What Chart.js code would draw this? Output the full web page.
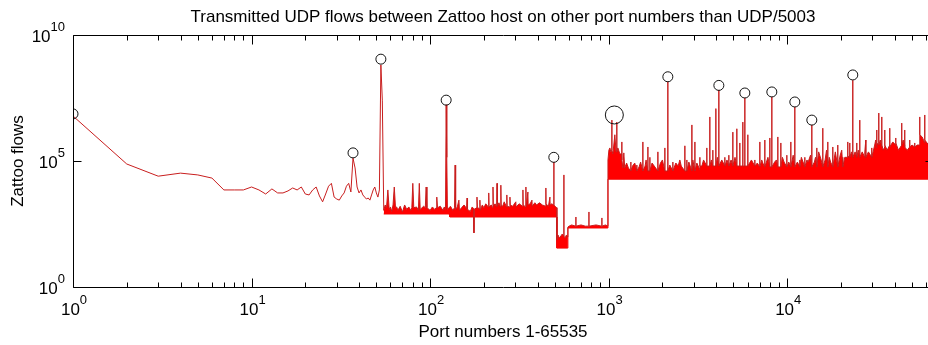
<!DOCTYPE html>
<html>
<head>
<meta charset="utf-8">
<title>Transmitted UDP flows</title>
<script src="https://cdn.jsdelivr.net/npm/chart.js@4.4.1/dist/chart.umd.min.js"></script>
<style>
  html, body { margin: 0; padding: 0; background: #fff; overflow: hidden; }
  #wrap { width: 950px; height: 345px; }
</style>
</head>
<body>
<div id="wrap"><canvas id="c" width="950" height="345"></canvas></div>
<script>
// Flow counts per port: well-known range (ports 1-512)
const portsLow = [
  1, 2, 3, 4, 5, 6, 7, 8, 9, 10, 11, 12, 13, 14, 15, 16, 17, 18, 19, 20,
  21, 22, 23, 24, 25, 26, 27, 28, 29, 30, 31, 32, 33, 34, 35, 36, 37, 38, 39, 40,
  41, 42, 43, 44, 45, 46, 47, 48, 49, 50, 51, 52, 53, 54, 55, 56, 57, 58, 59, 60,
  61, 62, 63, 64, 65, 66, 68, 70, 72, 74, 76, 78, 79, 80, 81, 84, 86, 87, 88, 92,
  94, 95, 96, 100, 103, 106, 108, 109, 110, 114, 118, 120, 122, 123, 124, 125, 130, 134, 137, 138,
  139, 142, 145, 146, 150, 155, 160, 161, 162, 168, 172, 175, 176, 177, 182, 183, 184, 189, 190, 191,
  196, 200, 205, 212, 213, 214, 220, 224, 225, 226, 231, 236, 237, 238, 243, 248, 249, 250, 255, 260,
  268, 269, 270, 279, 280, 281, 290, 302, 303, 315, 330, 331, 332, 343, 344, 345, 353, 354, 363, 372,
  373, 386, 395, 410, 425, 444, 445, 446, 460, 469, 470, 480, 492, 493, 494, 505, 512
];
const flowsLow = [
  6.1e6, 7.6e4, 2.5e4, 3.3e4, 2.8e4, 2.1e4, 7.1e3, 7.1e3, 7.1e3, 9.3e3, 7.1e3, 4.9e3, 7.8e3, 5.4e3, 5.4e3, 6.5e3, 8.5e3, 7.1e3, 9.3e3, 4.9e3,
  4.5e3, 7.1e3, 9.3e3, 4.1e3, 2.4e3, 4.9e3, 1.0e4, 1.3e4, 3.7e3, 3.1e3, 2.8e3, 4.1e3, 5.4e3, 1.0e4, 1.3e4, 5.9e3, 1.3e5, 5.3e4, 9.3e3, 5.4e3,
  7.1e3, 4.5e3, 3.7e3, 3.1e3, 3.4e3, 2.8e3, 4.5e3, 7.1e3, 9.3e3, 5.4e3, 3.7e3, 7.1e3, 6.5e8, 2.6e7, 1.1e3, 1.8e3, 1.4e3, 7.1e3, 1.2e3, 1.5e3,
  1.0e3, 1.8e3, 9.3e3, 1.4e3, 1.5e3, 1.1e3, 1.6e3, 950, 1.8e3, 1.2e3, 1.5e3, 1.1e3, 1.4e3, 1.3e4, 1.4e3, 1.5e3, 1.1e3, 1.3e4, 1.2e3, 1.6e3,
  1.4e3, 9.3e3, 1.4e3, 1.1e3, 1.5e3, 1.2e3, 1.4e3, 3.7e3, 1.4e3, 1.6e3, 1.1e3, 1.5e3, 1.2e3, 1.7e7, 1.4e5, 1.2e3, 1.6e3, 1.1e3, 1.4e3, 6.9e4,
  1.2e3, 1.5e3, 2.8e3, 1.1e3, 1.4e3, 1.8e3, 1.3e3, 3.4e3, 1.2e3, 1.0e3, 1.5e3, 1.3e3, 140, 1.2e3, 1.4e3, 3.7e3, 1.4e3, 1.3e3, 2.8e3, 1.1e3,
  1.8e3, 1.4e3, 2.0e3, 1.5e3, 5.4e3, 1.5e3, 1.8e3, 1.4e3, 9.3e3, 1.6e3, 2.0e3, 1.5e3, 1.3e4, 1.6e3, 2.2e3, 1.5e3, 1.1e4, 1.8e3, 1.6e3, 2.4e3,
  1.5e3, 4.5e3, 1.6e3, 1.5e3, 3.7e3, 1.8e3, 1.6e3, 2.4e3, 1.5e3, 2.0e3, 1.6e3, 7.1e3, 1.8e3, 1.5e3, 9.3e3, 1.6e3, 5.9e3, 1.8e3, 2.0e3, 2.8e3,
  1.6e3, 2.2e3, 1.8e3, 2.2e3, 1.8e3, 1.6e3, 8.5e3, 2.0e3, 1.6e3, 3.7e3, 1.8e3, 2.0e3, 1.8e3, 9.1e4, 1.8e3, 1.5e3, 1.4e3
];

// Flow counts per port: ports 513-990
const portsMid = [
  513, 520, 530, 540, 550, 560, 561, 562, 570, 580, 590,
  591, 600, 620, 654, 655, 656, 700, 740, 774, 775, 776, 850, 915, 916, 917, 960, 990
];
const flowsMid = [
  73, 116, 88, 106, 127, 106, 2.8e4, 106, 88, 116, 96,
  240, 260, 290, 260, 600, 260, 290, 260, 260, 950, 260, 290, 260, 550, 260, 290, 260
];

// Flow counts per port: registered and dynamic range (ports 991-65535)
const portsHigh = [
  991, 1003, 1016, 1029, 1041, 1042, 1043, 1056, 1083, 1100,
  1110, 1111, 1112, 1126, 1155, 1184, 1185, 1186, 1201, 1216,
  1230, 1260, 1290, 1330, 1331, 1332, 1360, 1400, 1437, 1438,
  1439, 1480, 1510, 1553, 1554, 1555, 1600, 1620, 1657, 1658,
  1659, 1700, 1701, 1702, 1750, 1800, 1885, 1886, 1887, 1950,
  2000, 2063, 2064, 2065, 2144, 2145, 2146, 2200, 2287, 2288,
  2289, 2378, 2450, 2504, 2550, 2670, 2671, 2672, 2740, 2741,
  2742, 2813, 2923, 2924, 2925, 2962, 3039, 3040, 3041, 3119,
  3241, 3242, 3243, 3327, 3400, 3545, 3546, 3547, 3685, 3686,
  3687, 3760, 3831, 3832, 3833, 3983, 3984, 3985, 4060, 4140,
  4141, 4142, 4300, 4473, 4474, 4475, 4600, 4710, 4711, 4712,
  4850, 4959, 4960, 4961, 5100, 5221, 5222, 5223, 5427, 5428,
  5429, 5641, 5642, 5643, 5789, 5790, 5791, 6017, 6018, 6019,
  6300, 6586, 6587, 6588, 6800, 7025, 7026, 7027, 7200, 7300,
  7491, 7492, 7493, 7800, 7991, 7992, 7993, 8199, 8200, 8201,
  8500, 8700, 8860, 8861, 8862, 9210, 9211, 9212, 9400, 9600,
  9949, 9950, 9951, 10200, 10476, 10477, 10478, 10800, 11030, 11031,
  11032, 11400, 11765, 11766, 11767, 12000, 12549, 12550, 12551, 12900,
  13100, 13500, 13732, 13733, 13734, 14200, 14400, 14647, 14648, 14649,
  15000, 15500, 15823, 15824, 15825, 16300, 16600, 16876, 16877, 16878,
  17200, 17500, 17999, 18000, 18001, 18600, 19197, 19198, 19199, 19800,
  20200, 20475, 20476, 20477, 21000, 21839, 21840, 21841, 22410, 22411,
  22412, 22900, 23294, 23295, 23296, 24000, 24527, 24528, 24529, 25000,
  25495, 25496, 25497, 26300, 27195, 27196, 27550, 27551, 28500, 29761,
  29762, 29763, 30900, 31300, 31741, 31742, 31743, 32572, 32573, 32574,
  33200, 33854, 33855, 33856, 34500, 35189, 35190, 35191, 36300, 37530,
  37531, 37532, 39000, 40547, 40548, 40549, 42000, 43788, 43789, 43790,
  44600, 45516, 45517, 45518, 47000, 48547, 48548, 48549, 50000, 51781,
  51782, 51783, 53500, 55257, 55258, 55259, 57000, 58938, 58939, 58940,
  62000, 65535
];
const flowsHigh = [
  1.1e5, 2.7e5, 3.3e5, 2.3e5, 2.7e5, 4.2e6, 2.7e5, 1.9e5, 1.1e6, 2.3e5,
  2.3e5, 3.5e6, 2.3e5, 3.3e5, 1.9e5, 1.9e5, 5.7e5, 1.1e5, 5.3e4, 2.1e5,
  5.3e4, 8.3e4, 5.3e4, 4.0e4, 9.1e4, 4.0e4, 6.3e4, 8.3e4, 4.0e4, 6.9e4,
  4.0e4, 5.8e4, 9.1e4, 4.0e4, 5.7e5, 4.0e4, 6.3e4, 1.1e5, 4.0e4, 3.6e5,
  4.0e4, 4.0e4, 1.4e5, 4.0e4, 8.3e4, 6.3e4, 4.0e4, 2.3e5, 4.0e4, 8.3e4,
  1.1e5, 4.0e4, 3.3e5, 4.0e4, 4.0e4, 1.4e8, 4.0e4, 6.9e4, 4.0e4, 9.1e4,
  4.0e4, 8.3e4, 6.3e4, 1.1e5, 6.3e4, 4.0e4, 4.0e5, 4.0e4, 4.0e4, 1.1e5,
  4.0e4, 9.1e4, 4.0e4, 2.7e6, 4.0e4, 1.1e5, 4.0e4, 5.7e5, 4.0e4, 8.3e4,
  4.5e4, 1.4e5, 6.3e4, 6.3e4, 1.1e5, 6.3e4, 3.3e5, 6.3e4, 6.3e4, 5.6e6,
  6.3e4, 1.1e5, 6.3e4, 2.7e5, 6.3e4, 6.3e4, 1.2e7, 6.3e4, 1.4e5, 6.3e4,
  6.6e7, 6.3e4, 1.1e5, 6.3e4, 1.4e5, 6.3e4, 1.1e5, 6.3e4, 1.7e5, 6.3e4,
  1.1e5, 6.3e4, 1.4e6, 6.3e4, 1.4e5, 6.3e4, 1.9e6, 6.3e4, 6.3e4, 5.2e5,
  6.3e4, 6.3e4, 3.5e6, 6.3e4, 6.3e4, 3.2e7, 6.3e4, 6.3e4, 1.1e6, 6.3e4,
  1.1e5, 6.3e4, 1.1e5, 6.3e4, 8.3e4, 5.8e4, 5.7e5, 5.8e4, 1.1e5, 8.3e4,
  5.8e4, 6.8e5, 5.8e4, 1.4e5, 5.8e4, 8.2e5, 5.8e4, 5.8e4, 3.5e7, 5.8e4,
  9.1e4, 1.1e5, 5.8e4, 9.0e5, 5.8e4, 5.8e4, 5.2e5, 5.8e4, 1.4e5, 9.1e4,
  5.8e4, 1.7e5, 5.8e4, 9.1e4, 5.8e4, 5.7e5, 5.8e4, 1.7e5, 5.8e4, 1.4e7,
  5.8e4, 9.1e4, 5.8e4, 1.1e5, 5.8e4, 1.4e5, 5.8e4, 1.4e5, 5.8e4, 1.1e5,
  9.1e4, 1.7e5, 5.8e4, 2.7e6, 5.8e4, 9.1e4, 1.4e5, 5.8e4, 3.3e5, 5.8e4,
  2.3e5, 1.1e5, 5.8e4, 2.0e6, 5.8e4, 1.1e5, 2.7e5, 5.8e4, 5.7e5, 5.8e4,
  1.4e5, 9.1e4, 5.8e4, 3.6e5, 5.8e4, 2.3e5, 5.8e4, 4.3e5, 5.8e4, 1.7e5,
  2.7e5, 5.8e4, 1.4e5, 5.8e4, 1.4e5, 1.4e5, 5.7e5, 1.4e5, 1.7e5, 5.2e5,
  1.4e5, 2.3e5, 1.4e5, 1.6e8, 1.4e5, 2.3e5, 1.4e5, 5.2e5, 1.4e5, 2.7e5,
  1.4e5, 4.2e6, 1.4e5, 2.3e5, 1.4e5, 2.3e5, 6.8e5, 1.4e5, 2.3e5, 1.4e5,
  3.3e5, 1.4e5, 4.3e5, 6.8e5, 3.3e5, 1.7e6, 5.2e5, 4.3e5, 8.0e6, 4.3e5,
  6.8e5, 3.6e5, 5.6e6, 4.3e5, 2.7e5, 3.6e5, 1.7e6, 4.3e5, 2.7e5, 4.3e5,
  2.0e6, 3.6e5, 5.7e5, 4.3e5, 8.2e5, 5.2e5, 2.7e5, 4.3e5, 3.2e6, 4.3e5,
  6.8e5, 4.3e5, 1.7e6, 3.6e5, 2.7e5, 3.6e5, 6.8e5, 3.6e5, 4.3e5, 3.6e5,
  5.2e5, 3.6e5, 4.3e5, 4.3e5, 5.6e6, 1.1e6, 9.0e5, 5.2e5, 6.7e6, 6.8e5,
  4.3e5, 4.3e5
];

// Lower edge of the dense band of flow counts
const floorPorts = [55, 128, 129, 512, 513, 590, 591, 990, 991, 65535];
const floorFlows = [790, 790, 600, 600, 35, 35, 220, 220, 1.9e4, 1.9e4];

// Ports whose flow counts stand out (ringed)
const peakPorts = [1, 37, 53, 123, 493, 1076, 2145, 4141, 5790, 8200, 11031, 13733, 23295];
const peakFlows = [7.4e6, 2.1e5, 1.1e9, 2.6e7, 1.4e5, 6.7e6, 2.2e8, 1.0e8, 5.0e7, 5.5e7, 2.2e7, 4.2e6, 2.6e8];

// Axis decades that carry a label
const xTickExps = [0, 1, 2, 3, 4];
const yTickExps = [0, 5, 10];

const FONT = '"Liberation Sans", Arial, Helvetica, sans-serif';
const TITLE = 'Transmitted UDP flows between Zattoo host on other port numbers than UDP/5003';

const ports = portsLow.concat(portsMid, portsHigh);
const flows = flowsLow.concat(flowsMid, flowsHigh);
const peakRadius = peakPorts.map(p => (p === 1076 ? 9 : 5));

// "10" followed by a raised exponent
function drawPower(ctx, e, anchorX, baseline, align) {
  const base = '10', exp = String(e);
  ctx.font = '17px ' + FONT;
  const wb = ctx.measureText(base).width;
  ctx.font = '13px ' + FONT;
  const we = ctx.measureText(exp).width;
  const x0 = align === 'center' ? anchorX - (wb + we) / 2 : anchorX - (wb + we);
  ctx.textAlign = 'left';
  ctx.textBaseline = 'alphabetic';
  ctx.font = '17px ' + FONT;
  ctx.fillText(base, x0, baseline);
  ctx.font = '13px ' + FONT;
  ctx.fillText(exp, x0 + wb, baseline - 11);
}

// Plot box with inward tick marks, decade labels and the title
const framePlugin = {
  id: 'frame',
  afterDatasetsDraw(chart) {
    const { ctx, chartArea: a, scales: { x, y } } = chart;
    ctx.save();
    ctx.strokeStyle = '#000';
    ctx.lineWidth = 1;
    ctx.beginPath();
    const L = Math.round(a.left) + 0.5, R = Math.round(a.right) + 0.5;
    const T = Math.round(a.top) + 0.5, B = Math.round(a.bottom) + 0.5;
    ctx.moveTo(L, T); ctx.lineTo(R, T); ctx.lineTo(R, B); ctx.lineTo(L, B); ctx.closePath();
    for (const t of x.ticks) {
      const px = Math.round(x.getPixelForValue(t.value)) + 0.5;
      const l = Math.log10(t.value);
      const len = Math.abs(l - Math.round(l)) < 1e-9 ? 9 : 5;
      ctx.moveTo(px, B); ctx.lineTo(px, B - len);
      ctx.moveTo(px, T); ctx.lineTo(px, T + len);
    }
    for (const t of y.ticks) {
      const py = Math.round(y.getPixelForValue(t.value)) + 0.5;
      ctx.moveTo(L, py); ctx.lineTo(L + 8, py);
      ctx.moveTo(R, py); ctx.lineTo(R - 8, py);
    }
    ctx.stroke();

    ctx.fillStyle = '#000';
    for (const e of xTickExps) {
      drawPower(ctx, e, x.getPixelForValue(Math.pow(10, e)) + 1, a.bottom + 28, 'center');
    }
    for (const e of yTickExps) {
      drawPower(ctx, e, a.left - 8, y.getPixelForValue(Math.pow(10, e)) + 7, 'right');
    }

    ctx.font = '17px ' + FONT;
    ctx.textAlign = 'center';
    ctx.textBaseline = 'middle';
    ctx.fillText(TITLE, (a.left + a.right) / 2, 17);
    ctx.restore();
  }
};

// Minor and major tick positions of the port axis
const xTickValues = [];
for (let e = 0; e <= 4; e++) {
  for (let m = 1; m <= 9; m++) {
    const v = m * Math.pow(10, e);
    if (v <= 65535) xTickValues.push(v);
  }
}

new Chart(document.getElementById('c'), {
  type: 'line',
  data: {
    datasets: [
      {
        label: 'peaks',
        data: peakPorts.map((p, i) => ({ x: p, y: peakFlows[i] })),
        showLine: false,
        pointStyle: 'circle',
        pointRadius: peakRadius,
        pointBorderColor: '#111',
        pointBackgroundColor: 'rgba(0,0,0,0)',
        pointBorderWidth: 1
      },
      {
        label: 'flows',
        data: ports.map((p, i) => ({ x: p, y: flows[i] })),
        borderColor: 'rgb(200,30,30)',
        backgroundColor: 'rgb(255,0,0)',
        borderWidth: 1,
        pointRadius: 0,
        tension: 0,
        fill: '+1'
      },
      {
        label: 'floor',
        data: floorPorts.map((p, i) => ({ x: p, y: floorFlows[i] })),
        borderColor: 'rgb(235,0,0)',
        borderWidth: 1,
        pointRadius: 0,
        tension: 0,
        fill: false
      }
    ]
  },
  options: {
    responsive: false,
    animation: false,
    events: [],
    layout: { padding: { top: 35, right: 17, left: 0, bottom: 0 } },
    plugins: { legend: { display: false }, tooltip: { enabled: false }, title: { display: false } },
    scales: {
      x: {
        type: 'logarithmic',
        min: 1,
        max: 65535,
        afterBuildTicks: s => { s.ticks = xTickValues.map(v => ({ value: v })); },
        afterFit: s => { s.height = 58; },
        grid: { display: false, drawTicks: false },
        border: { display: false },
        ticks: { display: false },
        title: {
          display: true, text: 'Port numbers 1-65535', color: '#000',
          font: { family: FONT, size: 17 }, padding: { top: 0, bottom: 2 }
        }
      },
      y: {
        type: 'logarithmic',
        min: 1,
        max: 1e10,
        afterBuildTicks: s => { s.ticks = yTickExps.map(e => ({ value: Math.pow(10, e) })); },
        afterFit: s => { s.width = 73; },
        grid: { display: false, drawTicks: false },
        border: { display: false },
        ticks: { display: false },
        title: {
          display: true, text: 'Zattoo flows', color: '#000',
          font: { family: FONT, size: 17 }, padding: { top: 8, bottom: 0 }
        }
      }
    }
  },
  plugins: [framePlugin]
});
</script>
</body>
</html>
